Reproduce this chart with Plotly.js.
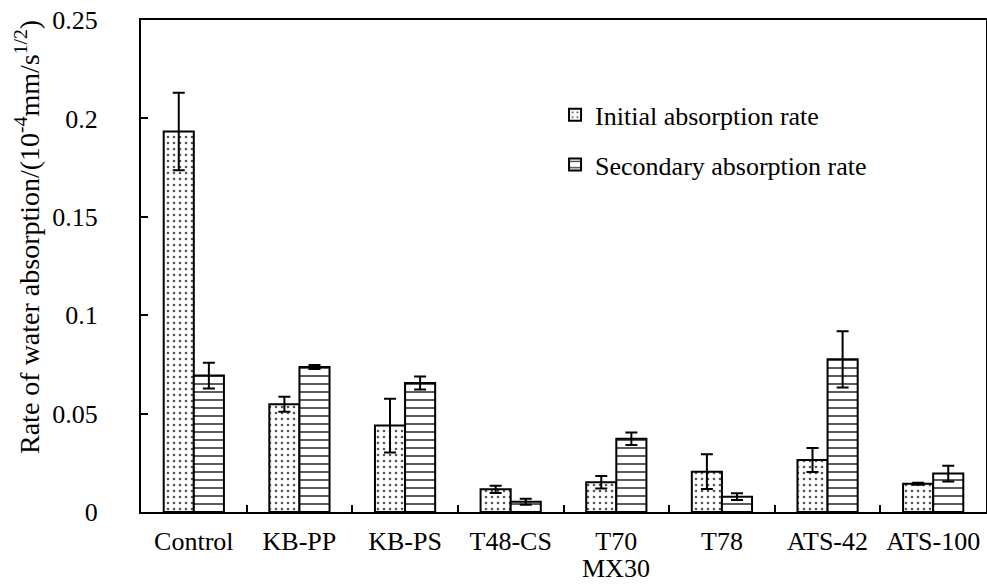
<!DOCTYPE html>
<html>
<head>
<meta charset="utf-8">
<script src="https://cdn.plot.ly/plotly-3.0.1.min.js"></script>
<style>html,body{margin:0;padding:0;background:#fff;}#chart{width:987px;height:585px;}</style>
</head>
<body>
<div id="chart"></div>
<script>
const categories = ["Control", "KB-PP", "KB-PS", "T48-CS", "T70 MX30", "T78", "ATS-42", "ATS-100"];
const initialRate = [0.1933, 0.0547, 0.0439, 0.0115, 0.0151, 0.0205, 0.0264, 0.0144];
const initialErr  = [0.0197, 0.0038, 0.0137, 0.0018, 0.0032, 0.0088, 0.0061, 0.0005];
const secondaryRate = [0.0693, 0.0737, 0.0655, 0.0052, 0.0372, 0.0078, 0.0776, 0.0195];
const secondaryErr  = [0.0065, 0.0010, 0.0033, 0.0015, 0.0032, 0.0017, 0.0143, 0.0040];
const yTicks = [0, 0.05, 0.1, 0.15, 0.2, 0.25];
const yTickLabels = ["0", "0.05", "0.1", "0.15", "0.2", "0.25"];

const font = "Liberation Serif";
const fs = 26;
const errStyle = {type: "data", visible: true, color: "#000", thickness: 2, width: 6};

// first line of each category label goes on the axis, second line (if any) below it
const firstLines = categories.map(c => c.split(" ")[0]);
const secondLineAnnots = categories
  .filter(c => c.split(" ").length > 1)
  .map(c => ({
    text: c.split(" ").slice(1).join(" "), xref: "x", yref: "paper", x: c, y: (512 - 584) / 492,
    xanchor: "center", yanchor: "bottom", showarrow: false, borderpad: 0,
    font: {family: font, size: fs, color: "#000"}
  }));

const traces = [
  {
    type: "bar", name: "Initial absorption rate", x: categories, y: initialRate,
    error_y: Object.assign({array: initialErr}, errStyle),
    marker: {color: "#fff", line: {color: "#000", width: 2},
      pattern: {shape: ".", fgcolor: "#555", bgcolor: "#fff", size: 6, solidity: 0.15}},
    legendgroup: "a"
  },
  {
    type: "bar", name: "Secondary absorption rate", x: categories, y: secondaryRate,
    error_y: Object.assign({array: secondaryErr}, errStyle),
    marker: {color: "#fff", line: {color: "#000", width: 2},
      pattern: {shape: "-", fgcolor: "#333", bgcolor: "#fff", size: 8, solidity: 0.2}},
    legendgroup: "b"
  }
];

const layout = {
  width: 987, height: 585,
  margin: {l: 141, r: 1, t: 20, b: 73, pad: 0},
  paper_bgcolor: "#fff", plot_bgcolor: "#fff",
  font: {family: font, size: fs, color: "#000"},
  barmode: "group", bargap: 0.43, bargroupgap: 0,
  showlegend: true,
  legend: {x: 0.49, y: 0.855, xanchor: "left", yanchor: "top", bgcolor: "rgba(0,0,0,0)",
    font: {family: font, size: fs, color: "#000"}, traceorder: "grouped", tracegroupgap: 13},
  xaxis: {
    type: "category", tickvals: categories, ticktext: firstLines,
    showline: true, linecolor: "#000", linewidth: 2, mirror: true,
    ticks: "inside", ticklen: 7, tickwidth: 2, tickcolor: "#000", tickson: "boundaries",
    showgrid: false, zeroline: false, ticklabelstandoff: 5,
    tickfont: {family: font, size: fs, color: "#000"}
  },
  yaxis: {
    range: [0, 0.25], tickvals: yTicks, ticktext: yTickLabels,
    showline: true, linecolor: "#000", linewidth: 2, mirror: true,
    ticks: "inside", ticklen: 7, tickwidth: 2, tickcolor: "#000",
    showgrid: false, zeroline: false, ticklabelstandoff: 36,
    tickfont: {family: font, size: fs, color: "#000"}
  },
  annotations: [{
    text: "Rate of water absorption/(10<sup>-4</sup>mm/s<sup>1/2</sup>)",
    xref: "paper", yref: "paper", x: (27 - 141) / 845, y: (512 - 237) / 492,
    xanchor: "center", yanchor: "middle", textangle: -90, showarrow: false,
    font: {family: font, size: 28, color: "#000"}
  }].concat(secondLineAnnots)
};

Plotly.newPlot("chart", traces, layout, {displayModeBar: false, staticPlot: true});
</script>
</body>
</html>
